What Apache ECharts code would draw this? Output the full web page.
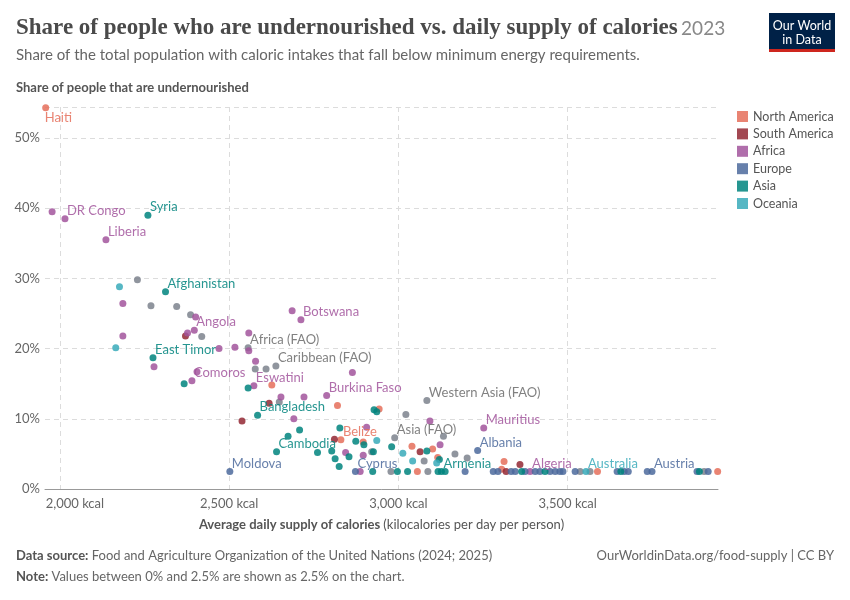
<!DOCTYPE html>
<html><head><meta charset="utf-8">
<script src="https://cdn.jsdelivr.net/npm/echarts@6/dist/echarts.min.js"></script>
<style>html,body{margin:0;padding:0;background:#fff}#c{width:850px;height:600px}</style>
</head><body><div id="c"></div>
<script>
// tick labels
const xTicks = [2000, 2500, 3000, 3500];
const yTicks = [0, 10, 20, 30, 40, 50];
const legendNames = ['North America', 'South America', 'Africa', 'Europe', 'Asia', 'Oceania'];

// [kcal per day, % undernourished, label]
const northAmerica = [[1958,54.3,'Haiti'],[2626,14.8],[2820,11.9],[2943,11.4],[2830,7.0,'Belize'],[2896,6.7],[3040,6.1],[3101,5.7],[3116,4.5],[3056,2.5],[3312,3.9],[3305,2.8],[3588,2.5],[3943,2.5]];
const southAmerica = [[2371,21.8],[2618,12.2],[2538,9.7],[2811,7.1],[3064,5.3],[3359,3.5],[3318,2.5]];
const africa = [[1977,39.5],[2015,38.5,'DR Congo'],[2136,35.5,'Liberia'],[2186,26.4],[2186,21.8],[2401,24.5],[2397,22.6,'Angola'],[2377,22.2],[2470,20.0],[2517,20.2],[2558,19.7],[2558,22.2],[2278,17.4],[2578,18.2],[2390,15.4,'Comoros'],[2405,16.7],[2573,14.7,'Eswatini'],[2686,25.4],[2712,24.1,'Botswana'],[2864,16.6],[2788,13.3,'Burkina Faso'],[2653,13.1],[2721,13.1],[2691,10.0],[2906,8.8],[2844,5.2],[2896,4.8],[2887,2.5],[3093,9.7],[3252,8.7,'Mauritius'],[3123,6.3],[3389,2.5,'Algeria']];
const europe = [[2502,2.5,'Moldova'],[2873,2.5,'Cyprus'],[3197,2.5],[3234,5.5,'Albania'],[3280,2.5],[3294,2.5],[3333,2.5],[3345,2.5],[3374,2.5],[3404,2.5],[3418,2.5],[3448,2.5],[3463,2.5],[3477,2.5],[3486,2.5],[3522,2.5],[3646,2.5],[3667,2.5],[3679,2.5],[3735,2.5],[3749,2.5,'Austria'],[3882,2.5],[3915,2.5]];
const asia = [[2260,39.0,'Syria'],[2312,28.1,'Afghanistan'],[2275,18.7,'East Timor'],[2367,15.0],[2556,14.4],[2584,10.5,'Bangladesh'],[2928,11.3],[2936,11.0],[2708,8.4],[2674,7.5],[2640,5.3,'Cambodia'],[2827,8.7],[2874,6.8],[2898,6.3],[2980,6.0],[2761,5.2],[2803,5.4],[2854,4.6],[2926,5.3],[2813,4.3],[2825,3.2],[3084,5.4],[3121,4.2],[2924,2.5],[2997,2.5],[3027,2.5],[3117,2.5],[3127,2.5,'Armenia'],[3138,2.5],[3364,2.5],[3433,2.5],[3657,2.5],[3889,2.5]];
const oceania = [[2176,28.8],[2165,20.1],[2936,6.9],[3013,5.1],[3042,4.0],[3113,3.7],[3554,2.5,'Australia']];
const regions = [[2229,29.8],[2269,26.1],[2345,26.0],[2386,24.8],[2419,21.7],[2556,20.1,'Africa (FAO)'],[2577,17.1],[2609,17.1],[2638,17.5,'Caribbean (FAO)'],[2648,12.4],[3022,10.6],[3084,12.6,'Western Asia (FAO)'],[2989,7.3,'Asia (FAO)'],[3133,7.5],[3167,5.0],[3203,4.4],[3076,4.0],[2921,5.3],[3087,2.5],[2978,2.5],[3537,2.5],[3566,2.5],[3903,2.5]];

const FONT = 'Lato';
function mk(name, data, color, labelColor) {
  return {
    name: name, type: 'scatter', symbolSize: 7,
    itemStyle: { color: color, opacity: 0.85 },
    emphasis: { disabled: true },
    label: { show: false, position: 'inside', align: 'left', verticalAlign: 'middle', offset: [2, -8],
      formatter: '{b}', color: labelColor, fontFamily: FONT, fontSize: 13 },
    data: data.map(function (d) {
      var o = { value: [d[0], d[1]], name: d[2] || '' };
      if (d[2]) {
        o.label = { show: true };
        if (d[2] === 'Haiti') o.label.offset = [-1, 10];
      }
      return o;
    })
  };
}

const chart = echarts.init(document.getElementById('c'));
chart.setOption({
  animation: false,
  textStyle: { fontFamily: FONT },
  grid: { left: 45, right: 132, top: 107, bottom: 111, containLabel: false },
  legend: { orient: 'vertical', left: 732, top: 105, itemWidth: 11, itemHeight: 11, itemGap: 4.4, icon: 'rect',
    selectedMode: false, data: legendNames,
    textStyle: { fontFamily: FONT, fontSize: 12.5, color: '#555' } },
  xAxis: {
    type: 'value', min: 1956, max: 3944,
    axisLine: { show: true, onZero: false, lineStyle: { color: '#999' } },
    axisTick: { show: false, customValues: xTicks },
    axisLabel: { customValues: xTicks, color: '#666', fontSize: 13, fontFamily: FONT, margin: 8,
      formatter: function (v) {
        var s = echarts.format.addCommas(v) + ' kcal';
        return v === 2000 ? '{f|' + s + '}' : s;
      },
      rich: { f: { padding: [0, 0, 0, 30], color: '#666', fontSize: 13, fontFamily: FONT } } },
    splitLine: { show: true, lineStyle: { color: '#dcdcdc', type: [5, 4] } },
    name: '{b|Average daily supply of calories} {n|(kilocalories per day per person)}',
    nameLocation: 'middle', nameGap: 29,
    nameTextStyle: { rich: {
      b: { fontFamily: FONT, fontWeight: 'bold', fontSize: 13, color: '#555' },
      n: { fontFamily: FONT, fontSize: 13, color: '#555' } } }
  },
  yAxis: {
    type: 'value', min: 0, max: 54.4, interval: 10,
    axisLine: { show: false }, axisTick: { show: false },
    axisLabel: { color: '#666', fontSize: 13, fontFamily: FONT, margin: 5, formatter: '{value}%',
      customValues: yTicks },
    splitLine: { show: true, lineStyle: { color: '#dcdcdc', type: [5, 4] } }
  },
  series: [
    mk('Regions', regions, '#7d838d', '#6b6b6b'),
    mk('North America', northAmerica, '#E56E5A', '#E56E5A'),
    mk('South America', southAmerica, '#932834', '#932834'),
    mk('Africa', africa, '#A2559C', '#A2559C'),
    mk('Europe', europe, '#4C6A9C', '#4C6A9C'),
    mk('Asia', asia, '#00847E', '#00847E'),
    mk('Oceania', oceania, '#38AABA', '#38AABA')
  ],
  graphic: [
    { type: 'text', left: 16, top: 17, style: {
      text: '{t|Share of people who are undernourished vs. daily supply of calories} {y|2023}',
      rich: { t: { fontFamily: 'Liberation Serif', fontWeight: 'bold', fontSize: 23, fill: '#4a4a4a' },
              y: { fontFamily: FONT, fontSize: 19, fill: '#888' } } } },
    { type: 'text', left: 16, top: 48, style: { text: 'Share of the total population with caloric intakes that fall below minimum energy requirements.',
      fontFamily: FONT, fontSize: 15, fill: '#666' } },
    { type: 'text', left: 16, top: 81, style: { text: 'Share of people that are undernourished',
      fontFamily: FONT, fontWeight: 'bold', fontSize: 13, fill: '#555' } },
    { type: 'rect', shape: { x: 769, y: 13, width: 66, height: 39 }, style: { fill: '#002147' } },
    { type: 'rect', shape: { x: 769, y: 49, width: 66, height: 3 }, style: { fill: '#CE261E' } },
    { type: 'text', style: { x: 802, y: 26, text: 'Our World', align: 'center', verticalAlign: 'middle', fontFamily: FONT, fontSize: 12.5, fill: '#fff' } },
    { type: 'text', style: { x: 802, y: 39.5, text: 'in Data', align: 'center', verticalAlign: 'middle', fontFamily: FONT, fontSize: 12.5, fill: '#fff' } },
    { type: 'text', left: 16, top: 549, style: {
      text: '{b|Data source:} {n|Food and Agriculture Organization of the United Nations (2024; 2025)}',
      rich: { b: { fontFamily: FONT, fontWeight: 'bold', fontSize: 13, fill: '#555' },
              n: { fontFamily: FONT, fontSize: 13, fill: '#666' } } } },
    { type: 'text', right: 16, top: 549, style: { text: 'OurWorldinData.org/food-supply | CC BY',
      fontFamily: FONT, fontSize: 13, fill: '#666' } },
    { type: 'text', left: 16, top: 570, style: {
      text: '{b|Note:} {n|Values between 0% and 2.5% are shown as 2.5% on the chart.}',
      rich: { b: { fontFamily: FONT, fontWeight: 'bold', fontSize: 13, fill: '#555' },
              n: { fontFamily: FONT, fontSize: 13, fill: '#666' } } } }
  ]
});
</script></body></html>
